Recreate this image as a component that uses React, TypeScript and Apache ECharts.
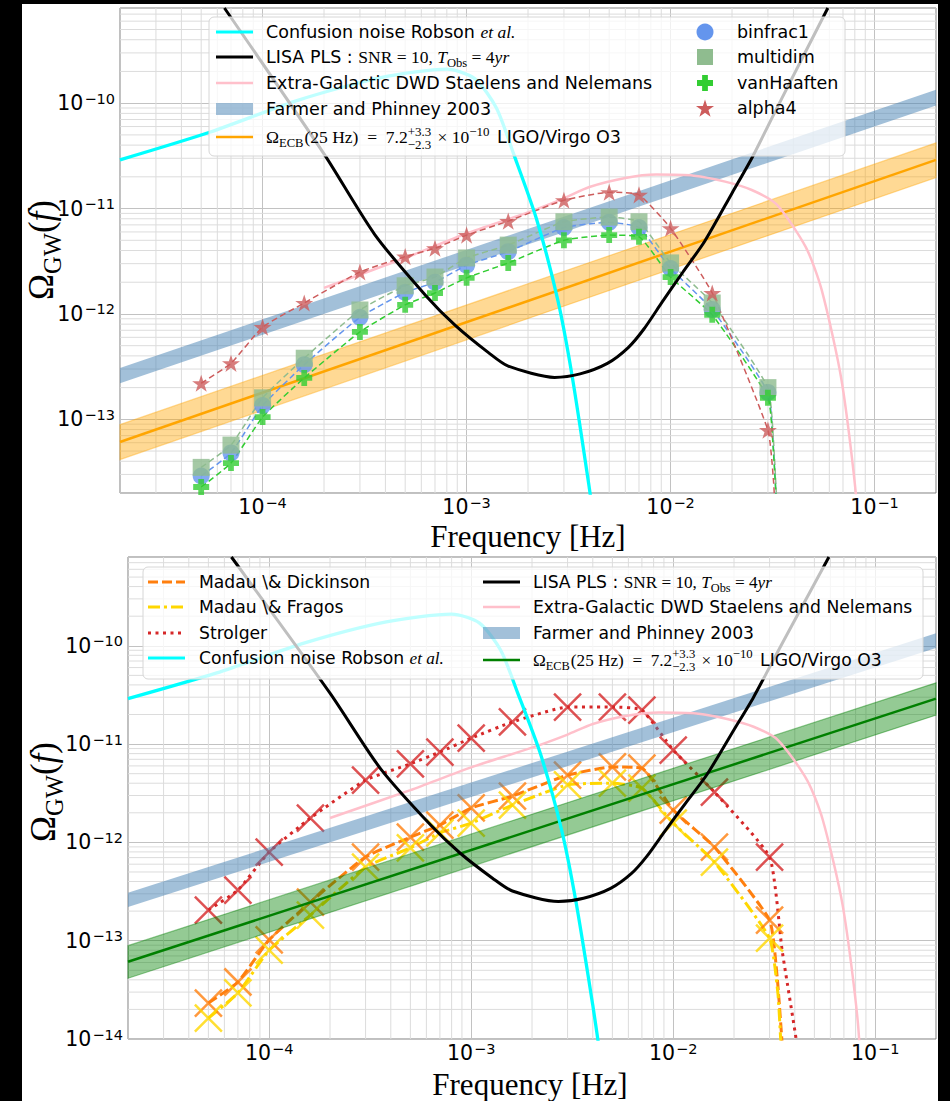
import React, { useEffect, useRef } from "react";
import * as echarts from "echarts";

// ---------------- data ----------------
const X_MIN = 2e-5;
const X_MAX = 0.2;
const TOP_Y_MIN = 2e-14;
const TOP_Y_MAX = 8e-10;
const BOT_Y_MIN = 1e-14;
const BOT_Y_MAX = 8e-10;

// frequencies [Hz] of the model points
const FREQ = [5e-5, 7e-5, 1e-4, 1.6e-4, 3e-4, 5e-4, 7e-4, 1e-3, 1.6e-3, 3e-3, 5e-3, 7e-3, 1e-2, 1.6e-2, 3e-2];

// top panel: population models
const binfrac1 = [2.9e-14, 4.8e-14, 1.35e-13, 3.3e-13, 9.3e-13, 1.6e-12, 2.0e-12, 2.9e-12, 3.9e-12, 6.6e-12, 7.4e-12, 6.6e-12, 2.7e-12, 1.1e-12, 1.8e-13];
const multidim = [3.5e-14, 5.7e-14, 1.6e-13, 3.8e-13, 1.09e-12, 1.85e-12, 2.24e-12, 3.4e-12, 4.5e-12, 7.5e-12, 8.3e-12, 7.5e-12, 3.05e-12, 1.27e-12, 2.0e-13];
const vanHaaften = [2.28e-14, 3.85e-14, 1.05e-13, 2.47e-13, 6.75e-13, 1.22e-12, 1.58e-12, 2.2e-12, 3.05e-12, 5.0e-12, 5.6e-12, 5.4e-12, 2.24e-12, 9.8e-13, 1.6e-13];
const alpha4 = [2.2e-13, 3.4e-13, 7.5e-13, 1.27e-12, 2.5e-12, 3.5e-12, 4.2e-12, 5.6e-12, 7.6e-12, 1.2e-11, 1.43e-11, 1.35e-11, 6.5e-12, 1.58e-12, 7.9e-14];
// high-frequency cut-off of the dashed curves (beyond last marker)
const binfrac1Tail: [number, number][] = [[3.2e-2, 5e-14], [3.4e-2, 5e-15]];
const multidimTail: [number, number][] = [[3.2e-2, 6e-14], [3.4e-2, 6e-15]];
const vanHaaftenTail: [number, number][] = [[3.18e-2, 5.5e-14], [3.4e-2, 6e-15]];
const alpha4Tail: [number, number][] = [[3.2e-2, 2.5e-14], [3.35e-2, 4e-15]];

// bottom panel: star formation histories
const madauDickinson = [2.32e-14, 3.8e-14, 1.02e-13, 2.47e-13, 7.1e-13, 1.13e-12, 1.5e-12, 2.24e-12, 2.96e-12, 4.84e-12, 5.85e-12, 5.7e-12, 2.13e-12, 8.97e-13, 1.62e-13];
const madauFragos = [1.63e-14, 2.94e-14, 8.0e-14, 1.82e-13, 5.6e-13, 8.8e-13, 1.25e-12, 1.57e-12, 2.4e-12, 3.85e-12, 4.0e-12, 3.57e-12, 1.57e-12, 6.3e-13, 1.06e-13];
const strolger = [2.05e-13, 3.27e-13, 7.98e-13, 1.77e-12, 4.3e-12, 6.3e-12, 8.3e-12, 1.15e-11, 1.68e-11, 2.38e-11, 2.38e-11, 2.22e-11, 8.7e-12, 3.25e-12, 7.1e-13];
const madauDickinsonTail: [number, number][] = [[3.27e-2, 4.3e-14], [3.45e-2, 1e-14], [3.55e-2, 4e-15]];
const madauFragosTail: [number, number][] = [[3.3e-2, 2.9e-14], [3.4e-2, 1.05e-14], [3.5e-2, 4e-15]];
const strolgerTail: [number, number][] = [[3.46e-2, 8e-14], [4.06e-2, 1e-14], [4.2e-2, 5e-15]];

// reference curves (shared by both panels)
const robsonConfusion: [number, number][] = [
  [2e-5, 2.9e-11], [5.5e-5, 5.3e-11], [1.5e-4, 1.07e-10], [3.8e-4, 1.75e-10], [8e-4, 2.1e-10],
  [1.1e-3, 1.7e-10], [1.4e-3, 9e-11], [1.7e-3, 3.3e-11], [2.2e-3, 8e-12], [2.8e-3, 1.35e-12],
  [3.3e-3, 2.5e-13], [4.0e-3, 2.2e-14], [4.3e-3, 8e-15],
];
const lisaPLS: [number, number][] = [
  [6.5e-5, 8e-10], [2.0e-4, 3.3e-11], [3.54e-4, 5.7e-12], [6.3e-4, 1.5e-12], [8.8e-4, 7.8e-13],
  [1.28e-3, 4.3e-13], [1.6e-3, 3.2e-13], [2.7e-3, 2.5e-13], [3.6e-3, 2.7e-13], [4.9e-3, 3.4e-13],
  [6.2e-3, 4.8e-13], [7.4e-3, 7.2e-13], [9.1e-3, 1.3e-12], [1.15e-2, 2.5e-12], [1.47e-2, 4.9e-12],
  [2.0e-2, 1.4e-11], [2.5e-2, 3.0e-11], [3.5e-2, 1.1e-10], [5.9e-2, 8e-10],
];
const staelensNelemans: [number, number][] = [
  [2e-4, 1.77e-12], [5e-4, 3.4e-12], [1e-3, 5.8e-12], [2e-3, 9.2e-12], [3e-3, 1.25e-11],
  [4e-3, 1.6e-11], [6e-3, 1.95e-11], [8.5e-3, 2.1e-11], [1.3e-2, 2.05e-11], [1.85e-2, 1.8e-11],
  [2.5e-2, 1.5e-11], [3.3e-2, 1.1e-11], [4.6e-2, 4.3e-12], [5.5e-2, 1.7e-12], [6.9e-2, 2.3e-13],
  [8.2e-2, 1.5e-14], [8.8e-2, 1e-15],
];
const farmerFreq = [2e-5, 0.2];
const farmerLow = [2.2e-13, 9.5e-11];
const farmerHigh = [3.07e-13, 1.34e-10];
const ligoFreq = [2e-5, 0.2];
const ligoMid = [6.1e-14, 2.9e-11];
const ligoLow = [4.15e-14, 1.97e-11];
const ligoHigh = [8.9e-14, 4.2e-11];

// ---------------- styling helpers ----------------
const SANS = "DejaVu Sans";
const SERIF = "Liberation Serif";

const C_CYAN = "#00FFFF";
const C_PINK = "#FFC0CB";
const C_FARMER = "rgba(70,130,180,0.5)";
const C_BIN = "#6495ED";
const C_MULTI = "#8FBC8F";
const C_VAN = "#32CD32";
const C_ALPHA = "#CD5C5C";
const C_MD = "#ff7f0e";
const C_MF = "#FFD700";
const C_STR = "#d62728";

const PLUS_PATH = "path://M3.2,0H6.8V3.2H10V6.8H6.8V10H3.2V6.8H0V3.2H3.2Z";
const X_PATH = "path://M0,0L10,10M10,0L0,10";
function starPoints(cx: number, cy: number, R: number): number[][] {
  const pts: number[][] = [];
  for (let i = 0; i < 10; i++) {
    const r = i % 2 === 0 ? R : R * 0.382;
    const a = -Math.PI / 2 + (i * Math.PI) / 5;
    pts.push([cx + r * Math.cos(a), cy + r * Math.sin(a)]);
  }
  return pts;
}
const STAR_PATH =
  "path://" +
  starPoints(50, 50, 50)
    .map((p, i) => (i === 0 ? "M" : "L") + p[0].toFixed(2) + "," + p[1].toFixed(2))
    .join("") +
  "Z";

const tickFormatter = (v: number) => {
  const e = Math.log10(v);
  const r = Math.round(e);
  if (Math.abs(e - r) > 1e-6) return "";
  return `{b|10}{s|${r < 0 ? "\u2212" : ""}${Math.abs(r)}}`;
};
const tickRich = {
  b: { fontSize: 20.5, fontFamily: SANS, color: "#000", lineHeight: 24 },
  s: { fontSize: 14.5, fontFamily: SANS, color: "#000", lineHeight: 10, verticalAlign: "top", padding: [0, 0, 0, 1] },
};

type P = { t?: string; s: number; f: string; i?: boolean; dy?: number; up?: P; dn?: P; c?: string; gap?: number };

function buildOption() {
  const cv = document.createElement("canvas");
  const ctx = cv.getContext("2d") as CanvasRenderingContext2D;
  const meas = (p: P) => {
    ctx.font = `${p.i ? "italic " : ""}${p.s}px "${p.f}"`;
    return ctx.measureText(p.t || "").width;
  };
  const txt = (p: P, x: number, base: number) => ({
    type: "text",
    x,
    y: base + (p.dy || 0) - 0.34 * p.s,
    z: 102,
    silent: true,
    style: {
      text: p.t,
      fontSize: p.s,
      fontFamily: p.f,
      fontStyle: p.i ? "italic" : "normal",
      fill: p.c || "#000",
      textAlign: "left",
      textVerticalAlign: "middle",
      align: "left",
      verticalAlign: "middle",
    },
  });
  const line = (pieces: P[], x0: number, base: number) => {
    const els: any[] = [];
    let x = x0;
    for (const p of pieces) {
      if (p.up || p.dn) {
        let w = 0;
        for (const q of [p.up, p.dn]) {
          if (q) {
            els.push(txt(q, x, base));
            w = Math.max(w, meas(q));
          }
        }
        x += w + (p.gap || 0);
        continue;
      }
      els.push(txt(p, x, base));
      x += meas(p) + (p.gap || 0);
    }
    return { els, w: x - x0 };
  };

  const robsonPieces = (s: number): P[] => [
    { t: "Confusion noise Robson ", s, f: SANS },
    { t: "et al.", s, f: SERIF, i: true },
  ];
  const lisaPieces = (s: number): P[] => [
    { t: "LISA PLS : ", s, f: SANS },
    { t: "SNR = 10, ", s, f: SERIF },
    { t: "T", s, f: SERIF, i: true },
    { t: "Obs", s: s * 0.72, f: SERIF, dy: s * 0.25 },
    { t: " = 4", s, f: SERIF },
    { t: "yr", s, f: SERIF, i: true },
  ];
  const ligoPieces = (s: number): P[] => [
    { t: "\u03A9", s, f: SERIF },
    { t: "ECB", s: s * 0.72, f: SERIF, dy: s * 0.25, gap: 1 },
    { t: "(25 Hz)  =  7.2", s, f: SERIF },
    { s, f: SERIF, gap: 2, up: { t: "+3.3", s: s * 0.74, f: SERIF, dy: -s * 0.45 }, dn: { t: "\u22122.3", s: s * 0.74, f: SERIF, dy: s * 0.3 } },
    { t: " \u00D7 10", s, f: SERIF },
    { t: "\u221210", s: s * 0.74, f: SERIF, dy: -s * 0.45, gap: 2 },
    { t: " LIGO/Virgo O3", s, f: SANS },
  ];

  const hLine = (x1: number, x2: number, y: number, stroke: string, w: number, dash?: number[]) => ({
    type: "line",
    z: 102,
    silent: true,
    shape: { x1, y1: y, x2, y2: y },
    style: { stroke, lineWidth: w, lineDash: dash || null },
  });

  const G: any[] = [];

  // ---------- top legend ----------
  {
    const S = 17.5;
    G.push({ type: "rect", z: 101, silent: true, shape: { x: 209, y: 17, width: 636, height: 139, r: 5 }, style: { fill: "rgba(255,255,255,0.75)", stroke: "#d6d6d6", lineWidth: 1 } });
    const hx1 = 216, hx2 = 253, tx = 266;
    const rows = [32, 57, 83, 109, 137];
    const bl = (y: number) => y + 6.4;
    G.push(hLine(hx1, hx2, rows[0], C_CYAN, 3));
    G.push(...line(robsonPieces(S), tx, bl(rows[0])).els);
    G.push(hLine(hx1, hx2, rows[1], "#000", 3));
    G.push(...line(lisaPieces(S), tx, bl(rows[1])).els);
    G.push(hLine(hx1, hx2, rows[2], C_PINK, 2.5));
    G.push(...line([{ t: "Extra-Galactic DWD Staelens and Nelemans", s: S, f: SANS }], tx, bl(rows[2])).els);
    G.push({ type: "rect", z: 102, silent: true, shape: { x: hx1, y: rows[3] - 6, width: hx2 - hx1, height: 12 }, style: { fill: C_FARMER } });
    G.push(...line([{ t: "Farmer and Phinney 2003", s: S, f: SANS }], tx, bl(rows[3])).els);
    G.push(hLine(hx1, hx2, rows[4], "#FFA500", 2.5));
    G.push(...line(ligoPieces(S), tx, bl(rows[4])).els);

    const mx = 705, mt = 737;
    const r2 = [32, 57, 83, 108];
    G.push({ type: "circle", z: 102, silent: true, shape: { cx: mx, cy: r2[0], r: 8.5 }, style: { fill: C_BIN } });
    G.push({ type: "rect", z: 102, silent: true, shape: { x: mx - 8, y: r2[1] - 8, width: 16, height: 16 }, style: { fill: C_MULTI } });
    const pl = [[3.2, 0], [6.8, 0], [6.8, 3.2], [10, 3.2], [10, 6.8], [6.8, 6.8], [6.8, 10], [3.2, 10], [3.2, 6.8], [0, 6.8], [0, 3.2], [3.2, 3.2]].map((p) => [mx - 8 + p[0] * 1.6, r2[2] - 8 + p[1] * 1.6]);
    G.push({ type: "polygon", z: 102, silent: true, shape: { points: pl }, style: { fill: C_VAN } });
    G.push({ type: "polygon", z: 102, silent: true, shape: { points: starPoints(mx, r2[3] + 1, 9.5) }, style: { fill: C_ALPHA } });
    const names = ["binfrac1", "multidim", "vanHaaften", "alpha4"];
    names.forEach((n, i) => G.push(...line([{ t: n, s: S, f: SANS }], mt, bl(r2[i])).els));
  }

  // ---------- bottom legend ----------
  {
    const S = 17.2;
    G.push({ type: "rect", z: 101, silent: true, shape: { x: 143, y: 567, width: 780, height: 112, r: 5 }, style: { fill: "rgba(255,255,255,0.75)", stroke: "#d6d6d6", lineWidth: 1 } });
    const bl = (y: number) => y + 6.3;
    const r1 = [582, 607, 633, 658];
    const h1 = 148, h2 = 185, t1 = 199;
    G.push(hLine(h1, h2, r1[0], C_MD, 3, [10, 4]));
    G.push(...line([{ t: "Madau \\& Dickinson", s: S, f: SANS }], t1, bl(r1[0])).els);
    G.push(hLine(h1, h2, r1[1], C_MF, 3, [12, 4, 3, 4]));
    G.push(...line([{ t: "Madau \\& Fragos", s: S, f: SANS }], t1, bl(r1[1])).els);
    G.push(hLine(h1, h2, r1[2], C_STR, 3, [3, 4.5]));
    G.push(...line([{ t: "Strolger", s: S, f: SANS }], t1, bl(r1[2])).els);
    G.push(hLine(h1, h2, r1[3], C_CYAN, 3));
    G.push(...line(robsonPieces(S), t1, bl(r1[3])).els);

    const r2 = [582, 607, 633, 660];
    const k1 = 483, k2 = 520, t2 = 533;
    G.push(hLine(k1, k2, r2[0], "#000", 3));
    G.push(...line(lisaPieces(S), t2, bl(r2[0])).els);
    G.push(hLine(k1, k2, r2[1], C_PINK, 2.5));
    G.push(...line([{ t: "Extra-Galactic DWD Staelens and Nelemans", s: S, f: SANS }], t2, bl(r2[1])).els);
    G.push({ type: "rect", z: 102, silent: true, shape: { x: k1, y: r2[2] - 6, width: k2 - k1, height: 12 }, style: { fill: C_FARMER } });
    G.push(...line([{ t: "Farmer and Phinney 2003", s: S, f: SANS }], t2, bl(r2[2])).els);
    G.push(hLine(k1, k2, r2[3], "#008000", 2.5));
    G.push(...line(ligoPieces(S), t2, bl(r2[3])).els);
  }

  // ---------- axis titles ----------
  const freqTitle = (cx: number, cy: number) => {
    const p: P = { t: "Frequency [Hz]", s: 31, f: SERIF };
    const w = meas(p);
    return line([p], cx - w / 2, cy + 0.34 * 31).els;
  };
  G.push(...freqTitle(528, 536));
  G.push(...freqTitle(530, 1084));
  const yTitle = (cx: number, cy: number) => {
    const S = 35;
    const pcs: P[] = [
      { t: "\u03A9", s: S, f: SERIF },
      { t: "GW", s: S * 0.7, f: SERIF, dy: S * 0.22 },
      { t: "(", s: S, f: SERIF },
      { t: "f", s: S, f: SERIF, i: true },
      { t: ")", s: S, f: SERIF },
    ];
    const { w } = line(pcs, 0, 0);
    const els = line(pcs, -w / 2, 12).els;
    return { type: "group", x: cx, y: cy, rotation: Math.PI / 2, silent: true, children: els };
  };
  G.push(yTitle(41, 250));
  G.push(yTitle(43, 792));

  // ---------- axes ----------
  const mkX = (gi: number) => ({
    type: "log",
    logBase: 10,
    gridIndex: gi,
    min: X_MIN,
    max: X_MAX,
    axisLine: { show: false },
    axisTick: { show: false },
    splitLine: { show: true, lineStyle: { color: "#c2c2c2", width: 1 } },
    axisLabel: { formatter: tickFormatter, rich: tickRich, margin: 2, color: "#000" },
  });
  const mkY = (gi: number, min: number, max: number) => ({
    type: "log",
    logBase: 10,
    gridIndex: gi,
    min,
    max,
    axisLine: { show: false },
    axisTick: { show: false },
    splitLine: { show: true, lineStyle: { color: "#c2c2c2", width: 1 } },
    axisLabel: { formatter: tickFormatter, rich: tickRich, margin: 5, color: "#000" },
  });

  // minor grid positions (2..9 x 10^k)
  const minorX: number[] = [];
  for (let k = -5; k <= -1; k++) for (let m = 2; m <= 9; m++) {
    const v = m * Math.pow(10, k);
    if (v > X_MIN * 1.001 && v < X_MAX * 0.999) minorX.push(v);
  }
  const minorY = (lo: number, hi: number) => {
    const a: number[] = [];
    for (let k = -15; k <= -9; k++) for (let m = 2; m <= 9; m++) {
      const v = m * Math.pow(10, k);
      if (v > lo * 1.001 && v < hi * 0.999) a.push(v);
    }
    return a;
  };

  const vGrid = (gi: number, ylo: number, yhi: number) => ({
    type: "custom",
    xAxisIndex: gi,
    yAxisIndex: gi,
    silent: true,
    z: 1,
    data: minorX.map((v) => [v, ylo]),
    renderItem: (_p: any, api: any) => {
      const v = api.value(0);
      const a = api.coord([v, ylo]);
      const b = api.coord([v, yhi]);
      return { type: "line", shape: { x1: a[0], y1: a[1], x2: b[0], y2: b[1] }, style: { stroke: "#dcdcdc", lineWidth: 1 } };
    },
  });
  const hGrid = (gi: number, ylo: number, yhi: number) => ({
    type: "custom",
    xAxisIndex: gi,
    yAxisIndex: gi,
    silent: true,
    z: 1,
    data: minorY(ylo, yhi).map((v) => [X_MIN, v]),
    renderItem: (_p: any, api: any) => {
      const v = api.value(1);
      const a = api.coord([X_MIN, v]);
      const b = api.coord([X_MAX, v]);
      return { type: "line", shape: { x1: a[0], y1: a[1], x2: b[0], y2: b[1] }, style: { stroke: "#dcdcdc", lineWidth: 1 } };
    },
  });
  const band = (gi: number, fArr: number[], lo: number[], hi: number[], fill: string, stroke: string | null, z: number) => ({
    type: "custom",
    xAxisIndex: gi,
    yAxisIndex: gi,
    silent: true,
    z,
    data: [[fArr[0], lo[0]]],
    renderItem: (_p: any, api: any) => {
      const up = fArr.map((f, i) => api.coord([f, hi[i]]));
      const dn = fArr.map((f, i) => api.coord([f, lo[i]])).reverse();
      return { type: "polygon", shape: { points: [...up, ...dn] }, style: { fill, stroke: stroke || "none", lineWidth: 1.2 } };
    },
  });
  const curve = (gi: number, data: number[][], color: string, width: number, z: number, type: any = "solid", smooth: number = 0.25) => ({
    type: "line",
    xAxisIndex: gi,
    yAxisIndex: gi,
    data,
    showSymbol: false,
    symbol: "none",
    smooth,
    z,
    silent: true,
    clip: true,
    lineStyle: { color, width, type, cap: "butt" },
  });
  const pts = (vals: number[]) => FREQ.map((f, i) => [f, vals[i]]);
  const scat = (gi: number, vals: number[], symbol: string, size: number, itemStyle: any, z: number, keep = false) => ({
    type: "scatter",
    xAxisIndex: gi,
    yAxisIndex: gi,
    data: pts(vals),
    symbol,
    symbolSize: size,
    symbolKeepAspect: keep,
    itemStyle,
    z,
    silent: true,
  });

  const series: any[] = [
    // ---- top panel ----
    vGrid(0, TOP_Y_MIN, TOP_Y_MAX),
    hGrid(0, TOP_Y_MIN, TOP_Y_MAX),
    band(0, farmerFreq, farmerLow, farmerHigh, C_FARMER, null, 3),
    band(0, ligoFreq, ligoLow, ligoHigh, "rgba(255,165,0,0.42)", "rgba(255,165,0,0.42)", 3),
    curve(0, ligoFreq.map((f, i) => [f, ligoMid[i]]), "#FFA500", 2.5, 4, "solid", 0),
    curve(0, staelensNelemans, C_PINK, 2.5, 4),
    curve(0, [...pts(binfrac1), ...binfrac1Tail], C_BIN, 1.5, 5, [6, 3.5], 0.15),
    curve(0, [...pts(multidim), ...multidimTail], C_MULTI, 1.5, 5, [6, 3.5], 0.15),
    curve(0, [...pts(vanHaaften), ...vanHaaftenTail], C_VAN, 1.5, 5, [6, 3.5], 0.15),
    curve(0, [...pts(alpha4), ...alpha4Tail], C_ALPHA, 1.5, 5, [6, 3.5], 0.15),
    scat(0, binfrac1, "circle", 17, { color: C_BIN }, 6),
    scat(0, multidim, "rect", 17, { color: C_MULTI }, 6),
    scat(0, vanHaaften, PLUS_PATH, 16, { color: C_VAN }, 6),
    scat(0, alpha4, STAR_PATH, 18, { color: C_ALPHA }, 6, true),
    curve(0, robsonConfusion, C_CYAN, 3.3, 7),
    curve(0, lisaPLS, "#000", 3, 7),

    // ---- bottom panel ----
    vGrid(1, BOT_Y_MIN, BOT_Y_MAX),
    hGrid(1, BOT_Y_MIN, BOT_Y_MAX),
    curve(1, [...pts(madauDickinson), ...madauDickinsonTail], C_MD, 3, 3, [10, 4], 0.15),
    curve(1, [...pts(madauFragos), ...madauFragosTail], C_MF, 3, 3, [12, 4, 3, 4], 0.15),
    curve(1, [...pts(strolger), ...strolgerTail], C_STR, 3, 3, [3, 4.5], 0.15),
    scat(1, madauDickinson, X_PATH, 27, { color: "rgba(0,0,0,0)", borderColor: C_MD, borderWidth: 2.5 }, 4),
    scat(1, madauFragos, X_PATH, 27, { color: "rgba(0,0,0,0)", borderColor: C_MF, borderWidth: 2.5 }, 4),
    scat(1, strolger, X_PATH, 27, { color: "rgba(0,0,0,0)", borderColor: C_STR, borderWidth: 2.5 }, 4),
    band(1, farmerFreq, farmerLow, farmerHigh, C_FARMER, null, 5),
    band(1, ligoFreq, ligoLow, ligoHigh, "rgba(0,128,0,0.42)", "rgba(0,128,0,0.42)", 5),
    curve(1, ligoFreq.map((f, i) => [f, ligoMid[i]]), "#008000", 2.5, 6, "solid", 0),
    curve(1, staelensNelemans, C_PINK, 2.5, 6),
    curve(1, robsonConfusion, C_CYAN, 3.3, 7),
    curve(1, lisaPLS, "#000", 3, 7),
  ];

  return {
    animation: false,
    grid: [
      { left: 120, top: 8, width: 816, height: 485, show: true, borderColor: "#808080", borderWidth: 1, backgroundColor: "transparent", containLabel: false },
      { left: 128, top: 557, width: 808, height: 482, show: true, borderColor: "#808080", borderWidth: 1, backgroundColor: "transparent", containLabel: false },
    ],
    xAxis: [mkX(0), mkX(1)],
    yAxis: [mkY(0, TOP_Y_MIN, TOP_Y_MAX), mkY(1, BOT_Y_MIN, BOT_Y_MAX)],
    series,
    graphic: { elements: G },
  };
}

export default function App() {
  const ref = useRef<HTMLDivElement>(null);
  useEffect(() => {
    if (!ref.current) return;
    const chart = echarts.init(ref.current, undefined, { renderer: "svg" });
    chart.setOption(buildOption() as any);
    return () => chart.dispose();
  }, []);
  return (
    <div style={{ position: "fixed", left: 0, top: 0, width: 950, height: 1101, background: "#000", overflow: "hidden" }}>
      <div style={{ position: "absolute", left: 22, top: 4, width: 916, height: 1097, background: "#fff" }} />
      <div ref={ref} style={{ position: "absolute", left: 0, top: 0, width: 950, height: 1101 }} />
    </div>
  );
}
